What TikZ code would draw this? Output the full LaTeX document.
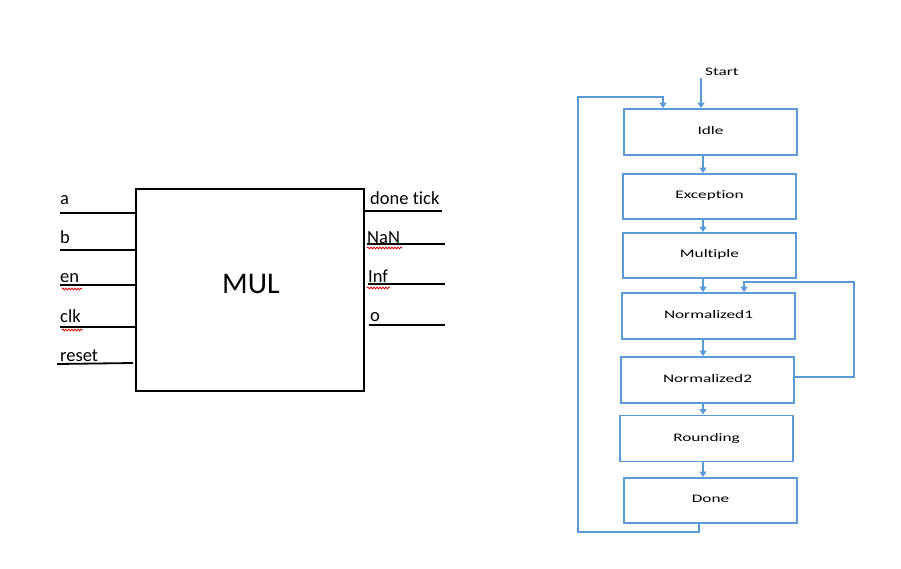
\documentclass[tikz,border=0pt]{standalone}
\usepackage{fontspec}
\usepackage{graphicx}
\setmainfont[Ligatures=NoCommon]{Carlito}
\usetikzlibrary{arrows.meta,decorations.pathmorphing}
\definecolor{fblue}{HTML}{5B9BD5}
\begin{document}
\begin{tikzpicture}[x=1pt,y=-1pt,
  blk/.style={draw=black,line width=2pt},
  pin/.style={draw=black,line width=1.8pt},
  lbl/.style={inner sep=0pt,anchor=base west,font=\fontsize{18.5}{20}\selectfont},
  fbox/.style={draw=fblue,line width=1.8pt,minimum width=173pt,minimum height=45pt,inner sep=0pt,fill=white},
  arr/.style={draw=fblue,line width=1.4pt,-{Triangle[width=7pt,length=5.5pt]}},
  ln/.style={draw=fblue,line width=1.4pt},
  sq/.style={draw=red!85!black,line width=0.8pt,decorate,decoration={snake,amplitude=0.9pt,segment length=3pt}}
]
\newcommand{\ft}[1]{\raisebox{3pt}{\scalebox{1.5}[1]{\fontsize{11.5}{13}\selectfont #1}}}
\newcommand{\fs}[1]{\scalebox{1.5}[1]{\fontsize{11.5}{13}\selectfont #1}}
\useasboundingbox (0,0) rectangle (901,568);
% MUL block
\node[blk,minimum width=228pt,minimum height=202pt,inner sep=0pt] (mul) at (250,290) {};
\node[inner sep=0pt,anchor=base,font=\fontsize{30}{32}\selectfont] (mult) at (251,293) {MUL};
% left pins
\coordinate (ia) at (60,213); \draw[pin] (ia) -- (mul.west |- ia);
\coordinate (ib) at (60,250); \draw[pin] (ib) -- (mul.west |- ib);
\coordinate (ie) at (60,285); \draw[pin] (ie) -- (mul.west |- ie);
\coordinate (ic) at (60,327); \draw[pin] (ic) -- (mul.west |- ic);
\coordinate (ir) at (57,364); \coordinate (ire) at (133,363); \draw[pin] (ir) -- (ire);
\node[lbl] (la) at (60,204) {a};
\node[lbl] (lb) at (60,243) {b};
\node[lbl] (le) at (60,282) {en};
\node[lbl] (lc) at (60,322) {clk};
\node[lbl] (lr) at (60,361) {reset};
% right pins
\coordinate (od) at (442,211); \draw[pin] (mul.east |- od) -- (od);
\coordinate (on) at (445,244); \draw[pin] (367,244) -- (on);
\coordinate (oi) at (445,284); \draw[pin] (368,284) -- (oi);
\coordinate (oo) at (445,325); \draw[pin] (369,325) -- (oo);
\node[lbl] (ld) at (370,204) {done tick};
\node[lbl] (ln) at (367,243) {NaN};
\node[lbl] (li) at (368,282) {Inf};
\node[lbl] (lo) at (370,321) {o};
% spell-check squiggles
\draw[sq] (62,289) -- (82,289);
\draw[sq] (62,330) -- (83,330);
\draw[sq] (367,248) -- (402,248);
\draw[sq] (367,288) -- (390,288);
% flowchart
\node[fbox,minimum height=46pt] (idle) at (710.5,132) {\ft{Idle}};
\node[fbox] (exc) at (709.5,196.5) {\ft{Exception}};
\node[fbox] (mlt) at (709.5,255.5) {\ft{Multiple}};
\node[fbox,minimum height=46pt] (n1) at (708.5,316) {\ft{Normalized1}};
\node[fbox,minimum height=46pt] (n2) at (707.5,380) {\ft{Normalized2}};
\node[fbox,minimum height=46pt] (rnd) at (706.5,438.5) {\ft{Rounding}};
\node[fbox] (done) at (710.5,500.5) {\ft{Done}};
\node[inner sep=0pt,anchor=base west] (start) at (705,75) {\fs{Start}};
\coordinate (sp) at (701,78);
\draw[arr] (sp) -- (idle.north -| sp);
\coordinate (ax) at (703,0);
\draw[arr] (idle.south -| ax) -- (exc.north -| ax);
\draw[arr] (exc.south -| ax) -- (mlt.north -| ax);
\draw[arr] (mlt.south -| ax) -- (n1.north -| ax);
\draw[arr] (n1.south -| ax) -- (n2.north -| ax);
\draw[arr] (n2.south -| ax) -- (rnd.north -| ax);
\draw[arr] (rnd.south -| ax) -- (done.north -| ax);
% loop Normalized2 -> Normalized1
\coordinate (rl) at (854,282);
\coordinate (n1x) at (744,0);
\coordinate (n2o) at (794.5,377);
\draw[arr] (n2o) -| (rl) -| (n1.north -| n1x);
% loop Done -> Idle
\coordinate (dx) at (699,532);
\coordinate (lc1) at (578,97);
\coordinate (ix) at (663,0);
\draw[arr] (done.south -| dx) -- (dx) -| (lc1) -| (idle.north -| ix);
\end{tikzpicture}
\end{document}
